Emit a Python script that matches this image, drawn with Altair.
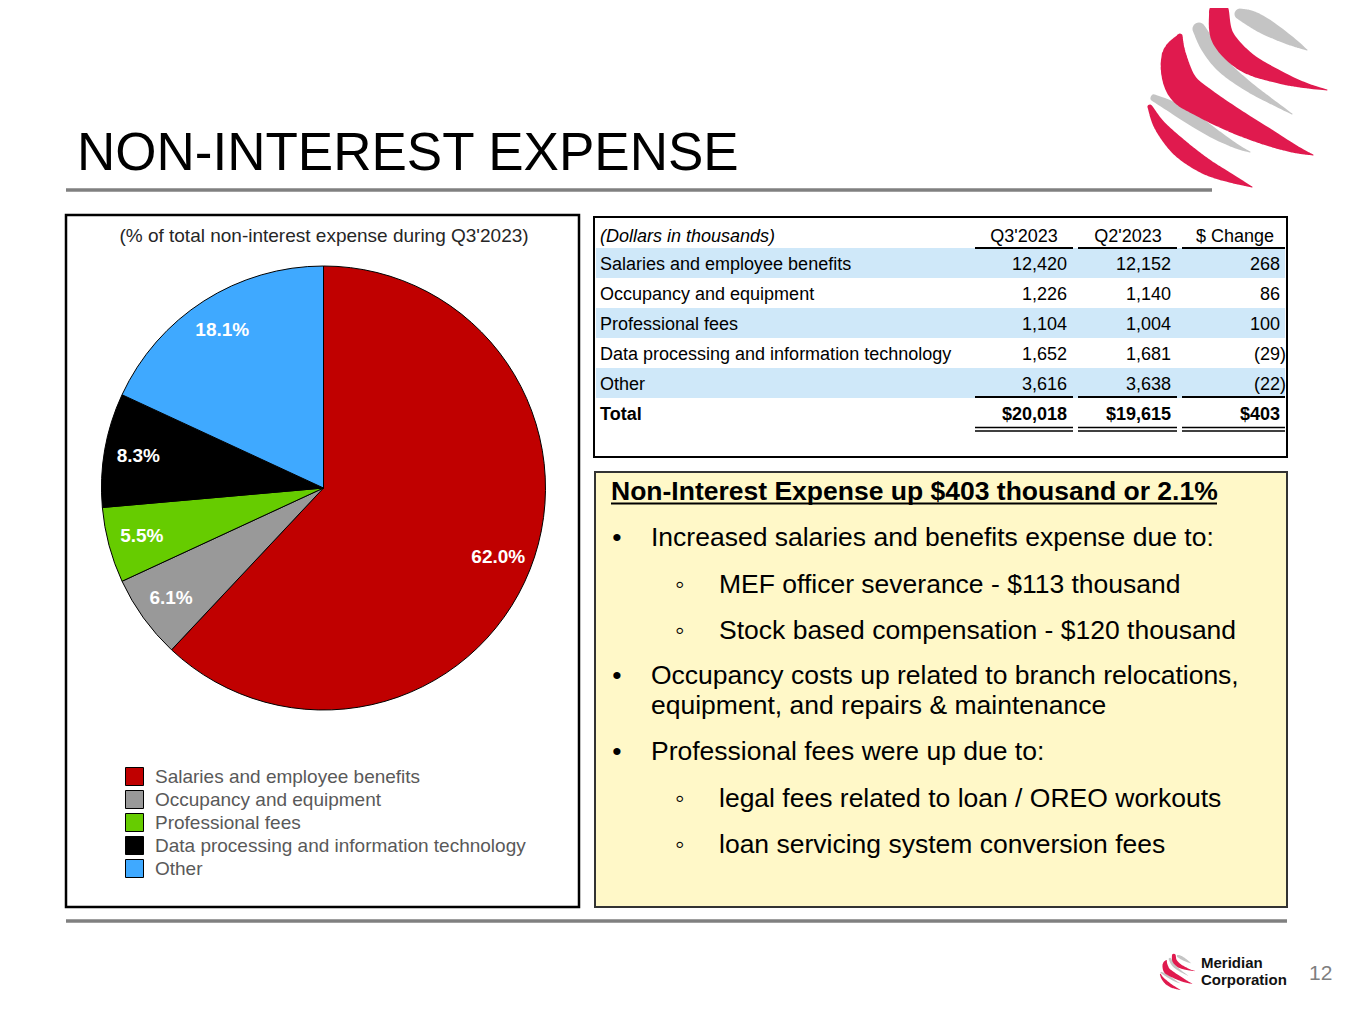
import altair as alt
import pandas as pd

# ---------------- data ----------------
categories = [
    "Salaries and employee benefits",
    "Occupancy and equipment",
    "Professional fees",
    "Data processing and information technology",
    "Other",
]
shares = [62.0, 6.1, 5.5, 8.3, 18.1]
share_labels = ["62.0%", "6.1%", "5.5%", "8.3%", "18.1%"]
slice_colors = ["#C00000", "#999999", "#66CC00", "#000000", "#3FA9FF"]

q3_2023 = [12420, 1226, 1104, 1652, 3616]
q2_2023 = [12152, 1140, 1004, 1681, 3638]
changes = [268, 86, 100, -29, -22]
table_headers = ["(Dollars in thousands)", "Q3'2023", "Q2'2023", "$ Change"]
total_row = ["Total", "$20,018", "$19,615", "$403"]

title_text = "NON-INTEREST EXPENSE"
pie_title = "(% of total non-interest expense during Q3'2023)"
box_heading = "Non-Interest Expense up $403 thousand or 2.1%"
box_lines = [
    ("•", "Increased salaries and benefits expense due to:", 1),
    ("◦", "MEF officer severance - $113 thousand", 2),
    ("◦", "Stock based compensation - $120 thousand", 2),
    ("•", "Occupancy costs up related to branch relocations,", 1),
    ("", "equipment, and repairs & maintenance", 1),
    ("•", "Professional fees were up due to:", 1),
    ("◦", "legal fees related to loan / OREO workouts", 2),
    ("◦", "loan servicing system conversion fees", 2),
]
box_baselines = [546, 592.5, 638.5, 684, 714, 760, 806.5, 852.5]
footer_company = ["Meridian", "Corporation"]
page_number = "12"

# ---------------- layout helpers (page pixel coordinates) ----------------
W, H = 1345, 1000
FONT = "Arial"
XS = alt.Scale(domain=[8, 8 + W], nice=False, zero=False)
YS = alt.Scale(domain=[8, 8 + H], nice=False, zero=False, reverse=True)


def enc_xy():
    return dict(x=alt.X("x:Q", scale=XS, axis=None), y=alt.Y("y:Q", scale=YS, axis=None))


def texts(rows, **props):
    df = pd.DataFrame(rows, columns=["x", "y", "t"])
    props.setdefault("font", FONT)
    props.setdefault("baseline", "alphabetic")
    return alt.Chart(df).mark_text(**props).encode(**enc_xy(), text="t:N")


def rules(rows, **props):
    df = pd.DataFrame(rows, columns=["x", "x2", "y"])
    return alt.Chart(df).mark_rule(**props).encode(
        x=alt.X("x:Q", scale=XS, axis=None), x2="x2:Q",
        y=alt.Y("y:Q", scale=YS, axis=None))


def rects(rows, **props):
    df = pd.DataFrame(rows, columns=["x", "x2", "y", "y2"])
    return alt.Chart(df).mark_rect(**props).encode(
        x=alt.X("x:Q", scale=XS, axis=None), x2="x2:Q",
        y=alt.Y("y:Q", scale=YS, axis=None), y2="y2:Q")


# ---------------- logo outline (decoration): ribbon centre lines with widths ----------------
logo_grey = [
    [(1240, 14, 11), (1252, 19, 16), (1268, 28, 16), (1291, 41, 9), (1307, 50, 1)],
    [(1199, 29, 13), (1209, 47, 16), (1224, 67, 14), (1249, 87, 10), (1274, 103, 5), (1292, 114, 1)],
    [(1154, 98, 7), (1170, 106, 11), (1192, 119, 13), (1215, 134, 10), (1236, 146, 5), (1250, 152, 1)],
]
logo_red = [
    [(1219, 12, 20), (1223, 38, 23), (1246, 62, 21), (1279, 77, 13), (1304, 85, 6), (1327, 90, 1)],
    [(1180, 36, 5), (1174, 57, 25), (1182, 86, 33), (1204, 103, 30), (1239, 123, 24), (1272, 139, 16),
     (1295, 149, 8), (1313, 155, 1)],
    [(1150, 107, 5), (1160, 126, 12), (1180, 148, 18), (1205, 166, 16), (1228, 177, 10), (1252, 187, 1)],
]


def smooth(pts, k=8):
    out = []
    n = len(pts)
    for i in range(n - 1):
        p0 = pts[max(i - 1, 0)]
        p1, p2 = pts[i], pts[i + 1]
        p3 = pts[min(i + 2, n - 1)]
        for s in range(k):
            t = s / k
            t2, t3 = t * t, t * t * t
            out.append(tuple(
                0.5 * (2 * p1[j] + (-p0[j] + p2[j]) * t + (2 * p0[j] - 5 * p1[j] + 4 * p2[j] - p3[j]) * t2
                       + (-p0[j] + 3 * p1[j] - 3 * p2[j] + p3[j]) * t3) for j in range(3)))
    out.append(pts[-1])
    return out


def trail_rows(ribbons, ox, oy, s, tag):
    rows = []
    for r, pts in enumerate(ribbons):
        for i, (x, y, w) in enumerate(smooth(pts)):
            rows.append((ox + (x - 1148) * s, oy + (y - 8) * s, max(w * s, 0.3), i, f"{tag}{r}"))
    return pd.DataFrame(rows, columns=["x", "y", "w", "i", "id"])


def trail_layer(df, color):
    return alt.Chart(df).mark_trail(color=color).encode(
        x=alt.X("x:Q", scale=XS, axis=None), y=alt.Y("y:Q", scale=YS, axis=None),
        size=alt.Size("w:Q", scale=None, legend=None), order="i:Q", detail="id:N")


layers = []

# title and separators
layers.append(texts([(77, 170, title_text)], fontSize=53, color="#000000", align="left"))
layers.append(rules([(66, 1212, 190), (66, 1287, 921)], color="#808080", strokeWidth=3.5))

# boxes
layers.append(rects([(595, 1287, 472, 907)], fill="#FFF8C8", stroke="#333333", strokeWidth=2))
layers.append(rects([(66, 579, 215, 907)], fill="white", fillOpacity=0, stroke="#000000", strokeWidth=2.5))

# table bands
band_rows = []
for i in range(len(categories)):
    if i % 2 == 0:
        band_rows.append((596, 1285, 248 + 30 * i, 278 + 30 * i))
layers.append(rects(band_rows, fill="#CFE8F9"))
layers.append(rects([(594, 1287, 217, 457)], fill="white", fillOpacity=0, stroke="#000000", strokeWidth=2))

# table lines
segs = [(975, 1073), (1078, 1177), (1182, 1285)]
layers.append(rules([(a, b, 248) for a, b in segs] + [(a, b, 397) for a, b in segs],
                    color="#000000", strokeWidth=2))
layers.append(rules([(a, b, 427.5) for a, b in segs] + [(a, b, 431) for a, b in segs],
                    color="#000000", strokeWidth=1.5))

# table text
TFS = 18
layers.append(texts([(600, 242, table_headers[0])], fontSize=TFS, fontStyle="italic", align="left", color="#000"))
layers.append(texts([(1024, 242, table_headers[1]), (1128, 242, table_headers[2]), (1235, 242, table_headers[3])],
                    fontSize=TFS, align="center", color="#000"))
label_rows = [(600, 270 + 30 * i, c) for i, c in enumerate(categories)]
layers.append(texts(label_rows, fontSize=TFS, align="left", color="#000"))
num_rows = []
for i in range(len(categories)):
    yb = 270 + 30 * i
    num_rows.append((1067, yb, f"{q3_2023[i]:,}"))
    num_rows.append((1171, yb, f"{q2_2023[i]:,}"))
    v = changes[i]
    if v < 0:
        num_rows.append((1286, yb, f"({abs(v):,})"))
    else:
        num_rows.append((1280, yb, f"{v:,}"))
layers.append(texts(num_rows, fontSize=TFS, align="right", color="#000"))
layers.append(texts([(600, 420, total_row[0])], fontSize=TFS, fontWeight="bold", align="left", color="#000"))
layers.append(texts([(1067, 420, total_row[1]), (1171, 420, total_row[2]), (1280, 420, total_row[3])],
                    fontSize=TFS, fontWeight="bold", align="right", color="#000"))

# text box
BFS = 26.5
layers.append(texts([(611, 500, box_heading)], fontSize=BFS, fontWeight="bold", align="left", color="#000"))
layers.append(rules([(611, 1217, 503.5)], color="#000000", strokeWidth=2))
mark_rows, line_rows = [], []
for (sym, txt, lvl), yb in zip(box_lines, box_baselines):
    if lvl == 1:
        if sym:
            mark_rows.append((617, yb, sym))
        line_rows.append((651, yb, txt))
    else:
        mark_rows.append((680, yb, sym))
        line_rows.append((719, yb, txt))
layers.append(texts(mark_rows, fontSize=BFS, align="center", color="#000"))
layers.append(texts(line_rows, fontSize=BFS, align="left", color="#000"))

# pie
pie_df = pd.DataFrame({"cat": categories, "share": shares, "lbl": share_labels,
                       "ord": list(range(len(categories)))})
PCX, PCY = 323.5 - 8, 488 - 8
layers.append(texts([(324, 242, pie_title)], fontSize=19, align="center", color="#262626"))
pie = alt.Chart(pie_df).mark_arc(radius=222, stroke="#000000", strokeWidth=1).encode(
    theta=alt.Theta("share:Q", stack=True),
    order=alt.Order("ord:Q"),
    color=alt.Color("cat:N", sort=categories,
                    scale=alt.Scale(domain=categories, range=slice_colors),
                    legend=alt.Legend(title=None, orient="none", legendX=117, legendY=759,
                                      direction="vertical", symbolType="square", symbolSize=324,
                                      symbolStrokeColor="#000000", symbolStrokeWidth=1,
                                      labelFont=FONT, labelFontSize=19, labelColor="#595959",
                                      labelOffset=11, rowPadding=0, labelLimit=600, padding=0)),
    x=alt.value(PCX), y=alt.value(PCY),
)
pie_labels = alt.Chart(pie_df).mark_text(radius=188, font=FONT, fontSize=19, fontWeight="bold",
                                         color="white", align="center", baseline="middle").encode(
    theta=alt.Theta("share:Q", stack=True),
    order=alt.Order("ord:Q"),
    text="lbl:N",
    x=alt.value(PCX), y=alt.value(PCY),
)
layers += [pie, pie_labels]

# logos
for ox, oy, s, tag in [(1148, 8, 1.0, "big"), (1160, 955, 0.195, "small")]:
    layers.append(trail_layer(trail_rows(logo_grey, ox, oy, s, tag + "g"), "#C4C4C4"))
    layers.append(trail_layer(trail_rows(logo_red, ox, oy, s, tag + "r"), "#E01A4E"))

# footer
layers.append(texts([(1201, 968, footer_company[0]), (1201, 985, footer_company[1])],
                    fontSize=15, fontWeight="bold", align="left", color="#111111"))
layers.append(texts([(1309, 980, page_number)], fontSize=21, align="left", color="#7F7F7F"))

chart = alt.layer(*layers).properties(
    width=W, height=H, padding=0,
    autosize=alt.AutoSizeParams(type="none"),
    background="white",
).configure_view(stroke=None)

chart.save("out.html", embed_options={"renderer": "svg", "actions": False})
